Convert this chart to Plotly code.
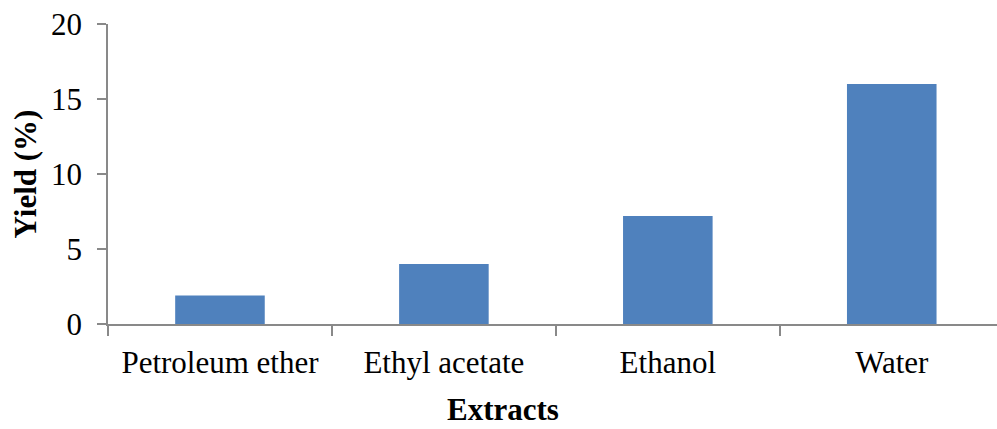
import plotly.graph_objects as go

# Extraction yield per solvent
extracts = ["Petroleum ether", "Ethyl acetate", "Ethanol", "Water"]
yield_pct = [1.9, 4.0, 7.2, 16.0]
y_ticks = [0, 5, 10, 15, 20]

serif = "Liberation Serif, Times New Roman, serif"
axis_grey = "#898989"
fs = 31

fig = go.Figure(
    go.Bar(
        x=extracts,
        y=yield_pct,
        marker=dict(color="#4F81BD", line=dict(width=0)),
    )
)

fig.update_layout(
    width=997,
    height=429,
    margin=dict(l=108, r=0, t=24, b=105),
    paper_bgcolor="white",
    plot_bgcolor="white",
    bargap=0.6,
    showlegend=False,
    font=dict(family=serif, color="black", size=fs),
)

fig.update_xaxes(
    type="category",
    range=[-0.5, 3.47],
    showline=True,
    linecolor=axis_grey,
    linewidth=1.5,
    ticks="outside",
    tickson="boundaries",
    ticklen=10,
    tickwidth=1.5,
    tickcolor=axis_grey,
    showgrid=False,
    ticklabelstandoff=10,
    tickfont=dict(family=serif, size=fs, color="black"),
    automargin=False,
)

# x-axis title placed as a paper-anchored label below the category names
fig.add_annotation(
    text="<b>Extracts</b>",
    xref="paper",
    yref="paper",
    x=0.444,
    y=-0.284,
    xanchor="center",
    yanchor="middle",
    showarrow=False,
    font=dict(family=serif, size=fs, color="black"),
)

fig.update_yaxes(
    range=[0, 20],
    tickvals=y_ticks,
    showline=True,
    linecolor=axis_grey,
    linewidth=1.5,
    ticks="outside",
    ticklen=9,
    tickwidth=1.5,
    tickcolor=axis_grey,
    showgrid=False,
    zeroline=False,
    ticklabelstandoff=9,
    tickfont=dict(family=serif, size=fs, color="black"),
    title=dict(
        text="<b>Yield (%)</b>",
        font=dict(family=serif, size=fs, color="black"),
        standoff=5,
    ),
    automargin=False,
)

fig.write_html("out.html")
